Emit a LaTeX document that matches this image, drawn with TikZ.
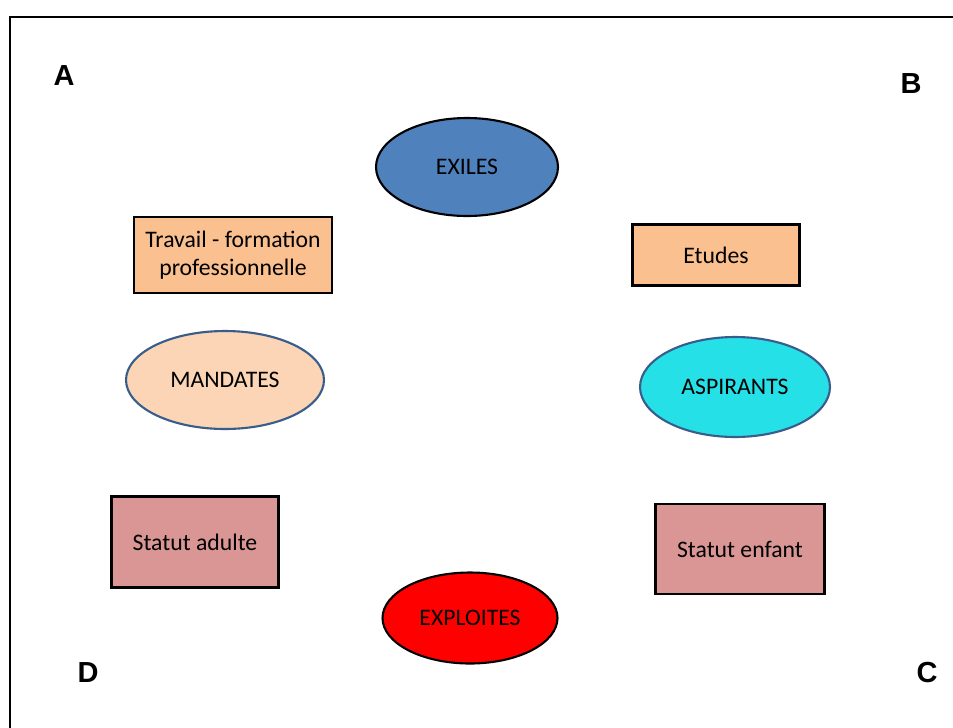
\documentclass[tikz,border=0pt]{standalone}
\usepackage{fontspec}
\setmainfont{Carlito}
\newfontfamily\cornerfont{Liberation Sans}
\usepackage{tikz}
\usetikzlibrary{shapes.geometric}
\definecolor{exilesblue}{HTML}{4F81BD}
\definecolor{studytan}{HTML}{FAC090}
\definecolor{mandpeach}{HTML}{FBD5B5}
\definecolor{aspcyan}{HTML}{26E0E8}
\definecolor{statusrose}{HTML}{D99694}
\definecolor{ovalblue}{HTML}{385D8A}

\begin{document}
\begin{tikzpicture}[x=0.02cm,y=-0.02cm,
	oval_node/.style={ellipse,draw,line width=1.2pt,inner sep=0pt,font=\fontsize{13.5}{16}\selectfont},
	box_node/.style={rectangle,draw,line width=1.5pt,inner sep=0pt,align=center,font=\fontsize{13.5}{16}\selectfont},
	corner_node/.style={font=\cornerfont\bfseries\fontsize{16.5}{18}\selectfont}]
\clip (0,0) rectangle (953,727);
\fill[white] (0,0) rectangle (953,727);
\draw[line width=1.2pt] (10,760) -- (10,17) -- (990,17);
	\node[corner_node] (A) at (64,76) {A};
	\node[corner_node] (B) at (911,84) {B};
	\node[corner_node] (C) at (927,673) {C};
	\node[corner_node] (D) at (88,673) {D};
	\node[oval_node,fill=exilesblue,minimum width=3.64cm,minimum height=1.96cm] (1) at (467,167) {EXILES};
	\node[box_node,fill=studytan,minimum width=3.96cm,minimum height=1.52cm] (2) at (233,255) {Travail - formation\\professionnelle};
	\node[box_node,fill=studytan,minimum width=3.34cm,minimum height=1.22cm] (3) at (716,255) {Etudes};
	\node[oval_node,draw=ovalblue,fill=mandpeach,minimum width=3.96cm,minimum height=1.96cm] (4) at (225,380) {MANDATES};
	\node[oval_node,draw=ovalblue,fill=aspcyan,minimum width=3.8cm,minimum height=2cm] (5) at (735,387) {ASPIRANTS};
	\node[box_node,fill=statusrose,minimum width=3.34cm,minimum height=1.82cm] (6) at (195,542) {Statut adulte};
	\node[box_node,fill=statusrose,minimum width=3.38cm,minimum height=1.8cm] (7) at (740,549) {Statut enfant};
	\node[oval_node,fill=red,minimum width=3.5cm,minimum height=1.82cm] (8) at (470,618) {EXPLOITES};
\end{tikzpicture}
\end{document}
